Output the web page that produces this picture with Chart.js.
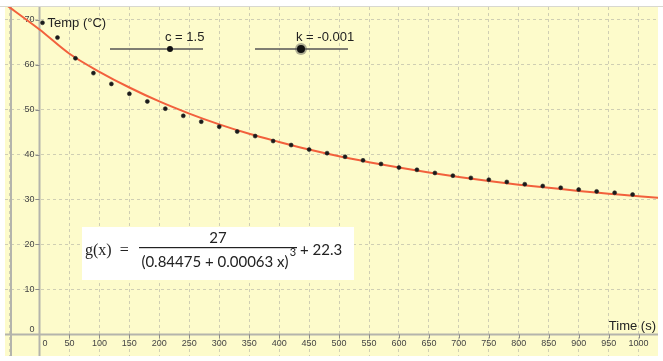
<!DOCTYPE html>
<html>
<head>
<meta charset="utf-8">
<script src="https://cdn.jsdelivr.net/npm/chart.js@4/dist/chart.umd.min.js"></script>
<style>
  html, body { margin: 0; padding: 0; background: #fff; }
  #wrap { width: 663px; height: 361px; position: relative; }
</style>
</head>
<body>
<div id="wrap"><canvas id="chart"></canvas></div>
<script>
// ===== DADOS =====
const pointTimes = [5, 30, 60, 90, 120, 150, 180, 210, 240, 270, 300, 330, 360, 390, 420, 450, 480,
  510, 540, 570, 600, 630, 660, 690, 720, 750, 780, 810, 840, 870, 900, 930, 960, 990];
const pointTemps = [69.3, 66.0, 61.4, 58.1, 55.7, 53.5, 51.8, 50.2, 48.6, 47.3, 46.2, 45.1, 44.1, 43.0, 42.1, 41.1, 40.3,
  39.5, 38.7, 37.9, 37.1, 36.6, 35.9, 35.3, 34.8, 34.4, 33.9, 33.4, 33.0, 32.6, 32.2, 31.8, 31.5, 31.1];

// curva g(x)
const curveTimes = [-60, 0, 50, 100, 150, 200, 250, 300, 350, 400, 450, 500, 550,
  600, 650, 700, 750, 800, 850, 900, 950, 1000, 1040];
const curveTemps = [73.7, 67.8, 62.4, 58.4, 54.9, 51.8, 49.1, 46.7, 44.6, 42.8, 41.1, 39.6, 38.3,
  37.1, 36.0, 35.0, 34.1, 33.3, 32.6, 31.9, 31.3, 30.7, 30.3];

const xTickLabels = [0, 50, 100, 150, 200, 250, 300, 350, 400, 450, 500, 550, 600, 650, 700, 750, 800, 850, 900, 950, 1000];
const yTickLabels = [0, 10, 20, 30, 40, 50, 60, 70];

const sliders = [
  { label: 'c = 1.5', x1: 110, x2: 203, knob: 170, r: 3 },
  { label: 'k = -0.001', x1: 255, x2: 348, knob: 301, r: 4 }
];

// ===== PLUGIN: fundo, eixos, textos =====
const geoPlugin = {
  id: 'geo',
  beforeDraw(chart) {
    const { ctx, chartArea: a } = chart;
    ctx.save();
    ctx.fillStyle = '#ffffff';
    ctx.fillRect(0, 0, chart.width, chart.height);
    ctx.fillStyle = '#fdfbcb';
    ctx.fillRect(a.left, a.top, a.right - a.left, a.bottom - a.top);
    ctx.strokeStyle = '#d8d8d0';
    ctx.lineWidth = 1;
    ctx.beginPath();
    ctx.moveTo(0, a.top - 0.5);
    ctx.lineTo(chart.width, a.top - 0.5);
    ctx.stroke();
    ctx.restore();
  },
  beforeDatasetsDraw(chart) {
    const { ctx, chartArea: a, scales: { x, y } } = chart;
    const x0 = x.getPixelForValue(0);
    const y0 = y.getPixelForValue(0);
    ctx.save();
    // eixos
    ctx.strokeStyle = '#b4b4ac';
    ctx.lineWidth = 2;
    ctx.beginPath();
    ctx.moveTo(a.left, y0); ctx.lineTo(a.right, y0);
    ctx.moveTo(x0, a.top); ctx.lineTo(x0, a.bottom);
    ctx.moveTo(11, a.top); ctx.lineTo(11, a.bottom);
    ctx.stroke();

    // marcas
    ctx.strokeStyle = '#8c8c88';
    ctx.lineWidth = 1;
    ctx.beginPath();
    yTickLabels.forEach(v => {
      if (v === 0) return;
      const py = Math.round(y.getPixelForValue(v)) + 0.5;
      ctx.moveTo(x0 - 4, py); ctx.lineTo(x0, py);
    });
    xTickLabels.forEach(v => {
      if (v === 0) return;
      const px = Math.round(x.getPixelForValue(v)) + 0.5;
      ctx.moveTo(px, y0); ctx.lineTo(px, y0 + 4);
    });
    ctx.stroke();

    // rótulos
    ctx.fillStyle = '#444';
    ctx.font = '9px "Liberation Sans", Arial, sans-serif';
    ctx.textBaseline = 'middle';
    ctx.textAlign = 'right';
    yTickLabels.forEach(v => {
      const py = y.getPixelForValue(v);
      ctx.fillText(String(v), x0 - 5, v === 0 ? py - 5 : py);
    });
    ctx.textAlign = 'center';
    xTickLabels.forEach(v => {
      const px = x.getPixelForValue(v);
      if (v === 0) {
        ctx.textAlign = 'left';
        ctx.fillText('0', x0 + 3, y0 + 9);
        ctx.textAlign = 'center';
      } else {
        ctx.fillText(String(v), px, y0 + 9);
      }
    });

    // títulos dos eixos
    ctx.fillStyle = '#222';
    ctx.font = '13px "Liberation Sans", Arial, sans-serif';
    ctx.textAlign = 'left';
    ctx.fillText('Temp (°C)', x0 + 8, 23);
    ctx.textAlign = 'right';
    ctx.fillText('Time (s)', a.right - 2, y0 - 8);
    ctx.restore();
  },
  afterDraw(chart) {
    const { ctx } = chart;
    ctx.save();
    // sliders
    sliders.forEach(s => {
      ctx.strokeStyle = '#555';
      ctx.lineWidth = 1.5;
      ctx.beginPath();
      ctx.moveTo(s.x1, 49); ctx.lineTo(s.x2, 49);
      ctx.stroke();
      if (s.r > 3) {
        ctx.fillStyle = 'rgba(80,80,80,0.45)';
        ctx.beginPath(); ctx.arc(s.knob, 49, s.r + 2, 0, Math.PI * 2); ctx.fill();
      }
      ctx.fillStyle = '#111';
      ctx.beginPath(); ctx.arc(s.knob, 49, s.r, 0, Math.PI * 2); ctx.fill();
      ctx.font = '13px "Liberation Sans", Arial, sans-serif';
      ctx.textAlign = 'left';
      ctx.textBaseline = 'middle';
      ctx.fillStyle = '#222';
      ctx.fillText(s.label, s.knob - 5, 37);
    });

    // caixa da fórmula
    ctx.fillStyle = '#ffffff';
    ctx.fillRect(82, 227, 272, 53);
    ctx.fillStyle = '#222';
    ctx.textBaseline = 'middle';
    ctx.font = '16px "Liberation Serif", "DejaVu Serif", serif';
    ctx.textAlign = 'left';
    ctx.fillText('g(x)  =', 85, 251);
    ctx.font = '15px Lato, "Open Sans", sans-serif';
    ctx.textAlign = 'center';
    ctx.fillText('27', 218, 238);
    ctx.fillRect(139, 247, 158, 1.2);
    ctx.fillText('(0.84475 + 0.00063 x)', 215, 262);
    ctx.font = '11px Lato, "Open Sans", sans-serif';
    ctx.fillText('3', 293, 252);
    ctx.font = '15px Lato, "Open Sans", sans-serif';
    ctx.textAlign = 'left';
    ctx.fillText('+ 22.3', 300, 250);
    ctx.restore();
  }
};

// ===== GRÁFICO =====
const gridOpts = { color: 'rgba(170,170,160,0.55)', lineWidth: 1, drawTicks: false };

new Chart(document.getElementById('chart'), {
  type: 'scatter',
  data: {
    datasets: [
      {
        label: 'Medições',
        data: pointTimes.map((t, i) => ({ x: t, y: pointTemps[i] })),
        pointRadius: 2,
        pointBackgroundColor: '#1a1a1a',
        pointBorderColor: 'rgba(40,40,40,0.6)',
        pointBorderWidth: 1,
        showLine: false
      },
      {
        label: 'g(x)',
        data: curveTimes.map((t, i) => ({ x: t, y: curveTemps[i] })),
        showLine: true,
        borderColor: '#f2603c',
        borderWidth: 2,
        pointRadius: 0,
        cubicInterpolationMode: 'monotone'
      }
    ]
  },
  plugins: [geoPlugin],
  options: {
    responsive: true,
    maintainAspectRatio: false,
    animation: false,
    layout: { padding: { top: 7, left: 0, right: 0, bottom: 0 } },
    plugins: { legend: { display: false }, tooltip: { enabled: false } },
    scales: {
      x: {
        type: 'linear', min: -57.6, max: 1032.4,
        ticks: { display: false, stepSize: 50, includeBounds: false },
        grid: gridOpts,
        border: { display: false, dash: [3, 3] },
        afterFit: s => { s.height = 0; }
      },
      y: {
        type: 'linear', min: -4.8, max: 72.8,
        ticks: { display: false, stepSize: 10, includeBounds: false },
        grid: gridOpts,
        border: { display: false, dash: [3, 3] },
        afterFit: s => { s.width = 0; }
      }
    }
  }
});
</script>
</body>
</html>
